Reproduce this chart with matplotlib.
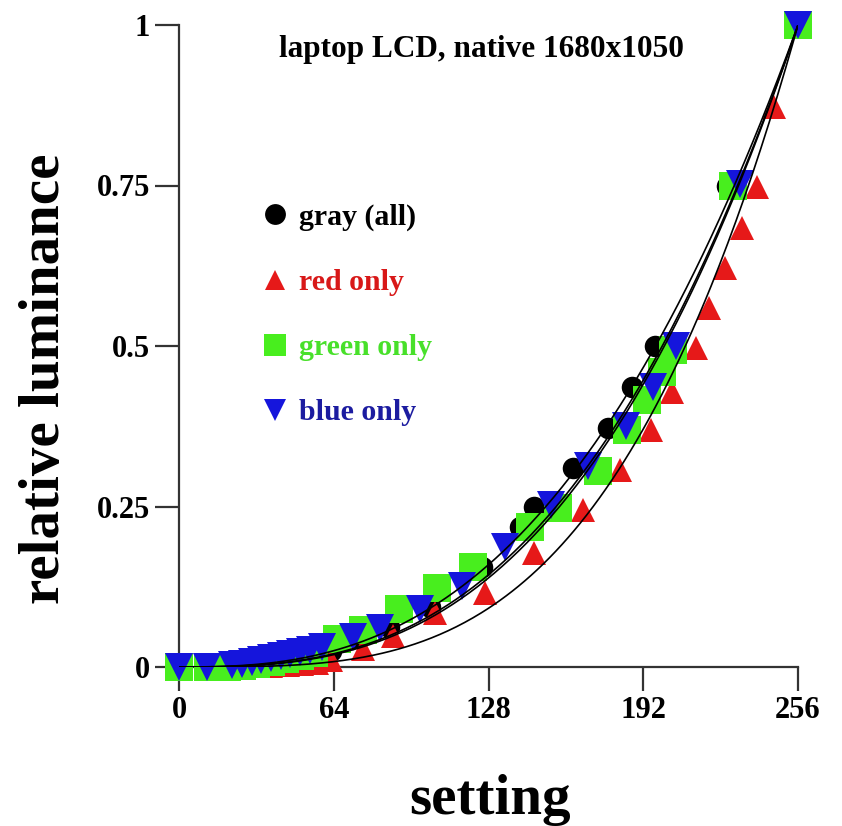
import numpy as np
import matplotlib
matplotlib.use("Agg")
from matplotlib import pyplot as plt
from matplotlib.lines import Line2D

gray_x = [0, 12, 21, 27, 33, 39, 45, 51, 57, 63, 74, 87, 104, 125.5, 141, 147, 163, 177.5, 187.5, 197, 226.5, 256]
gray_y = [0, 0, 0.001, 0.002, 0.004, 0.006, 0.009, 0.013, 0.018, 0.025, 0.045, 0.062, 0.094, 0.156, 0.218, 0.25, 0.31, 0.372, 0.436, 0.5, 0.75, 1.0]

red_x = [0, 12, 22, 30, 38, 45, 51, 57, 63, 76, 88.5, 106, 126.5, 147, 167, 182.4, 195, 204, 214, 219, 225.8, 233, 239, 246, 256]
red_y = [0, 0, 0, 0.001, 0.002, 0.003, 0.005, 0.007, 0.011, 0.028, 0.048, 0.084, 0.115, 0.178, 0.245, 0.307, 0.369, 0.428, 0.497, 0.559, 0.621, 0.684, 0.748, 0.872, 1.0]

green_x = [0, 12, 20, 26, 32, 38, 44, 50, 56, 65.5, 76, 90.8, 106.7, 121.6, 145.2, 156.7, 173.3, 185.3, 193.5, 199.8, 204.5, 229, 256]
green_y = [0, 0, 0, 0.002, 0.005, 0.008, 0.012, 0.017, 0.022, 0.044, 0.058, 0.09, 0.123, 0.155, 0.218, 0.248, 0.305, 0.369, 0.416, 0.46, 0.494, 0.75, 1.0]

blue_x = [0, 11.6, 22, 26, 30, 34, 38, 42, 46, 50, 54, 59, 72, 83, 99.7, 117, 135, 154, 169, 185, 196, 205.5, 232, 256]
blue_y = [0, 0, 0.003, 0.005, 0.008, 0.011, 0.014, 0.017, 0.02, 0.023, 0.027, 0.031, 0.047, 0.06, 0.09, 0.126, 0.187, 0.252, 0.313, 0.375, 0.436, 0.5, 0.752, 1.0]

# fitted power-law exponents (y = (x/256)^gamma)
gammas = {"gray": 2.65, "red": 3.45, "green": 2.8, "blue": 2.85}

labels = ["gray (all)", "red only", "green only", "blue only"]
xticks = [0, 64, 128, 192, 256]
yticks = [0, 0.25, 0.5, 0.75, 1]
yticklabels = ["0", "0.25", "0.5", "0.75", "1"]

serif = ["Liberation Serif", "DejaVu Serif"]
plt.rcParams["font.family"] = serif
plt.rcParams["font.weight"] = "bold"

W, H = 842, 826
fig = plt.figure(figsize=(W / 100, H / 100), dpi=100)
ax = fig.add_axes([179 / W, 1 - 667 / H, 619 / W, 642 / H])

c_red = "#e61919"
c_green = "#48ee1e"
c_blue = "#1515dc"

ax.plot(gray_x, gray_y, "o", color="black", ms=15.5, mew=0, clip_on=False, zorder=3)
ax.plot(red_x, red_y, "^", color=c_red, ms=17.5, mew=0, clip_on=False, zorder=4)
ax.plot(green_x, green_y, "s", color=c_green, ms=19.5, mew=0, clip_on=False, zorder=5)
ax.plot(blue_x, blue_y, "v", color=c_blue, ms=19.5, mew=0, clip_on=False, zorder=6)

xs = np.linspace(0, 256, 300)
for k in ["gray", "red", "green", "blue"]:
    ax.plot(xs, (xs / 256.0) ** gammas[k], color="black", lw=1.2, zorder=7)

ax.set_xlim(0, 256)
ax.set_ylim(0, 1)
for s in ["top", "right"]:
    ax.spines[s].set_visible(False)
for s in ["left", "bottom"]:
    ax.spines[s].set_color("#333333")
    ax.spines[s].set_linewidth(1.6)
ax.set_xticks(xticks)
ax.set_xticklabels([str(t) for t in xticks])
ax.set_yticks(yticks)
ax.set_yticklabels(yticklabels)
ax.tick_params(axis="both", direction="out", length=17, width=1.6, color="#333333",
               labelsize=22, pad=4)
ax.patch.set_visible(False)

ax.text(0.488, 0.962, "laptop LCD, native 1680x1050", transform=ax.transAxes,
        ha="center", va="center", fontsize=22.5, fontweight="bold")

handles = [
    Line2D([], [], ls="none", marker="o", color="black", ms=15, mew=0),
    Line2D([], [], ls="none", marker="^", color=c_red, ms=15, mew=0),
    Line2D([], [], ls="none", marker="s", color=c_green, ms=16, mew=0),
    Line2D([], [], ls="none", marker="v", color=c_blue, ms=16, mew=0),
]
leg = ax.legend(handles, labels, loc="upper left", bbox_to_anchor=(0.134, 0.722),
                frameon=False, borderpad=0, borderaxespad=0, handlelength=0.9,
                handletextpad=0.35, labelspacing=1.28, numpoints=1,
                prop={"family": serif, "weight": "bold", "size": 21.5},
                labelcolor=["black", "#d81818", "#48e02a", "#1c1ca0"])

fig.text(45 / W, 1 - 379 / H, "relative luminance", rotation=90, ha="center",
         va="center", fontsize=41, fontweight="bold")
fig.text(490 / W, 1 - 800 / H, "setting", ha="center", va="center",
         fontsize=41, fontweight="bold")

fig.savefig("out.png", dpi=100)
